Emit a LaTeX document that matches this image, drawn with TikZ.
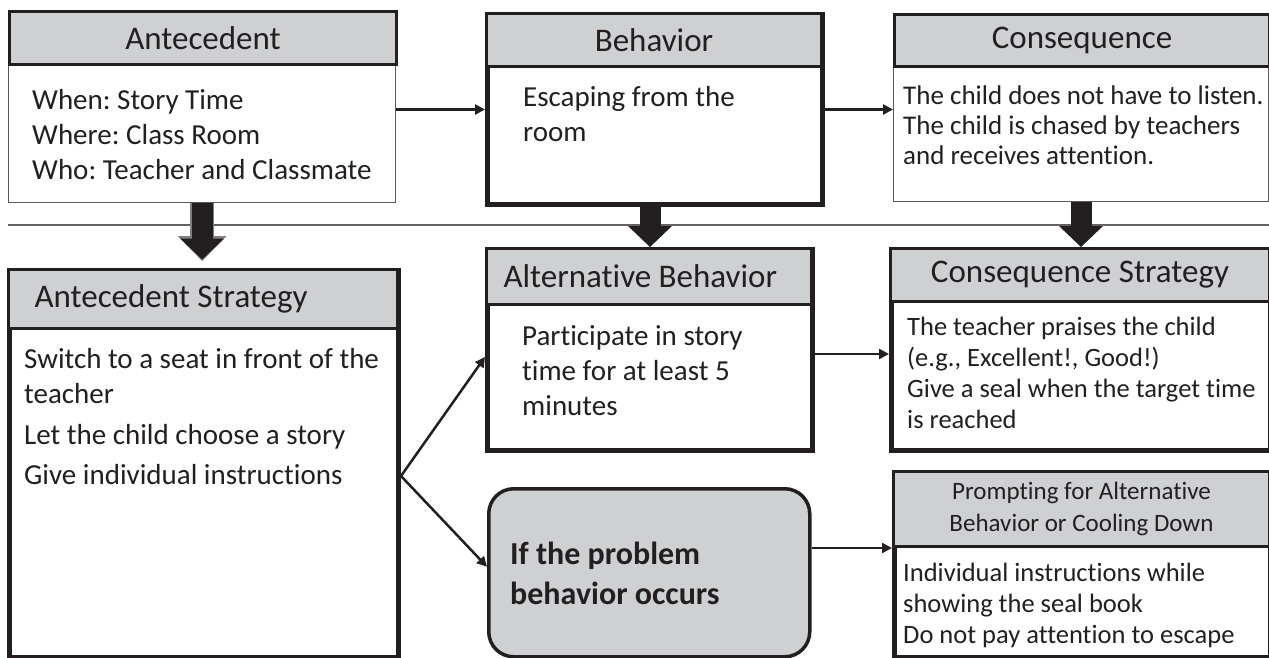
\documentclass[tikz,border=0pt]{standalone}
\usepackage{fontspec}
\setmainfont{Carlito}[Ligatures=NoCommon]
\usetikzlibrary{arrows.meta,calc}
\definecolor{hdrgray}{RGB}{207,208,210}
\definecolor{ink}{RGB}{35,31,32}
\frenchspacing
\tikzset{
  frame/.style={
    % The shape:
    shape=rectangle,anchor=north west,inner sep=0pt,
    % The border:
    draw=ink,line width=5pt,
    % The filling:
    fill=white},
  thinframe/.style={frame,draw=ink!75,line width=1.3pt},
  header/.style={
    % The shape:
    shape=rectangle,anchor=north west,inner sep=0pt,
    % The rest
    draw=ink,line width=3pt,fill=hdrgray,
    text=ink,font=\fontsize{33pt}{38pt}\selectfont}}
\tikzset{
  txt/.style={anchor=north west,inner sep=0pt,align=flush left,text=ink,
    font=\fontsize{29pt}{35pt}\selectfont},
  smalltxt/.style={txt,font=\fontsize{26.5pt}{31pt}\selectfont},
  flow/.style={draw=ink,line width=2.5pt,-{Triangle[width=10pt,length=10pt]}},
  bigflow/.style={draw=ink,line width=21pt,
    -{Triangle[width=44pt,length=21pt,line width=0pt]}}}

\begin{document}
\begin{tikzpicture}[x=1pt,y=-1pt]
	\useasboundingbox (0,0) rectangle (1269,658);
	% Top row: antecedent, behavior, consequence
	\node[thinframe,minimum width=387pt,minimum height=192pt] (ant) at (8,10) {};
	\node[header,minimum width=387pt,minimum height=53pt] (antH) at (8,10) {Antecedent};
	\node[txt] (antT) at (32,89) {When: Story Time\\Where: Class Room\\Who: Teacher and Classmate};
	\node[frame,minimum width=335pt,minimum height=190pt] (beh) at (485,12) {};
	\node[header,minimum width=335pt,minimum height=53pt] (behH) at (485,12) {Behavior};
	\node[txt] (behT) at (523,86) {Escaping from the\\room};
	\node[thinframe,minimum width=375pt,minimum height=188pt] (con) at (893,13) {};
	\node[header,minimum width=375pt,minimum height=52pt] (conH) at (893,13) {Consequence};
	\node[smalltxt,font=\fontsize{27pt}{30pt}\selectfont] (conT) at (903,86)
		{The child does not have to listen.\\The child is chased by teachers\\and receives attention.};
	% Separator
	\draw[ink!70,line width=1.3pt] (ant.west |- 0,225) -- (1269,225);
	% Bottom rows: strategies
	\node[frame,minimum width=389pt,minimum height=387pt] (antS) at (7,268) {};
	\node[header,minimum width=389pt,minimum height=59pt,text width=337pt,align=flush left] (antSH) at (7,268) {Antecedent Strategy};
	\node[txt] (antST) at (24,348)
		{Switch to a seat in front of the\\teacher\\[6pt]Let the child choose a story\\[5pt]Give individual instructions};
	\node[frame,minimum width=325pt,minimum height=201pt] (altB) at (485,247) {};
	\node[header,minimum width=325pt,minimum height=56pt,text width=291pt,align=flush left] (altBH) at (485,247) {Alternative Behavior};
	\node[txt] (altBT) at (522,325) {Participate in story\\time for at least 5\\minutes};
	\node[frame,minimum width=379pt,minimum height=201pt] (conS) at (889,247) {};
	\node[header,minimum width=379pt,minimum height=53pt] (conSH) at (889,247) {Consequence Strategy};
	\node[smalltxt] (conST) at (907,317)
		{The teacher praises the child\\(e.g., Excellent!, Good!)\\Give a seal when the target time\\is reached};
	\node[frame,fill=hdrgray,line width=3.5pt,rounded corners=25pt,minimum width=321pt,minimum height=168pt] (prob) at (487,487) {};
	\node[txt,font=\bfseries\fontsize{32pt}{40pt}\selectfont] (probT) at (510,542) {If the problem\\behavior occurs};
	\node[frame,minimum width=376pt,minimum height=185pt] (prm) at (892,470) {};
	\node[header,minimum width=376pt,minimum height=75pt,align=flush center,font=\fontsize{25pt}{32pt}\selectfont] (prmH) at (892,470)
		{Prompting for Alternative\\Behavior or Cooling Down};
	\node[smalltxt] (prmT) at (903,563)
		{Individual instructions while\\showing the seal book\\Do not pay attention to escape};
	% Thin arrows
	\draw[flow] (ant.east |- beh.west) -- (beh.west);
	\draw[flow] (beh.east) -- (beh.east -| con.west);
	\coordinate (split) at ([yshift=-12pt]antS.east);
	\draw[flow] (split) -- ([yshift=-7pt]altB.west);
	\draw[flow] (split) -- ([yshift=6pt]prob.west);
	\draw[flow] ([yshift=-4pt]altB.east) -- ([yshift=-4pt]altB.east -| conS.west);
	\draw[flow] (prob.east |- prmH.south) -- (prmH.south west);
	% Block arrows down to the strategies
	\draw[bigflow,draw=gray,line width=24pt,-{Triangle[width=49pt,length=25pt,line width=0pt]},shorten >=7pt]
		(ant.south) -- (ant.south |- antS.north);
	\draw[bigflow,shorten >=8.5pt] (ant.south) -- (ant.south |- antS.north);
	\draw[bigflow] (altB.north |- beh.south) -- (altB.north);
	\draw[bigflow] (conS.north |- con.south) -- (conS.north);
\end{tikzpicture}
\end{document}
